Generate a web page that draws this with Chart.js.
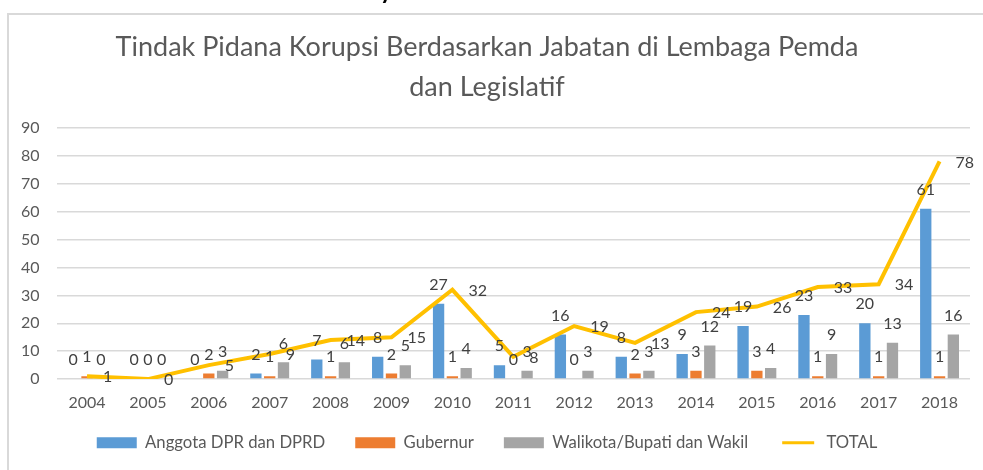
<!DOCTYPE html>
<html>
<head>
<meta charset="utf-8">
<script src="https://cdn.jsdelivr.net/npm/chart.js@4/dist/chart.umd.min.js"></script>
<style>
  html, body { margin: 0; padding: 0; background: #fff; }
  #wrap { position: relative; width: 983px; height: 470px; overflow: hidden; }
</style>
</head>
<body>
<div id="wrap"><canvas id="grafik" width="983" height="470"></canvas></div>
<script>
	// data tahunan
	var tahun = ["2004", "2005", "2006", "2007", "2008", "2009", "2010", "2011", "2012", "2013", "2014", "2015", "2016", "2017", "2018"];
	var anggotaDPR = [0, 0, 0, 2, 7, 8, 27, 5, 16, 8, 9, 19, 23, 20, 61];
	var gubernur = [1, 0, 2, 1, 1, 2, 1, 0, 0, 2, 3, 3, 1, 1, 1];
	var walikota = [0, 0, 3, 6, 6, 5, 4, 3, 3, 3, 12, 4, 9, 13, 16];
	var total = [1, 0, 5, 9, 14, 15, 32, 8, 19, 13, 24, 26, 33, 34, 78];
	var yTicks = [0, 10, 20, 30, 40, 50, 60, 70, 80, 90];

	var huruf = "Lato, 'Open Sans', sans-serif";
	var abu = '#595959';
	var geserX = 22; // sumbu x dipendekkan supaya area plot turun

	// label angka di atas batang / di kanan garis
	var labelAngka = {
		id: 'labelAngka',
		afterDatasetsDraw: (chart) => {
			var ctx = chart.ctx;
			ctx.save();
			ctx.font = '16px ' + huruf;
			ctx.fillStyle = '#404040';
			chart.data.datasets.forEach((ds, i) => {
				var meta = chart.getDatasetMeta(i);
				meta.data.forEach((el, j) => {
					ctx.textBaseline = 'middle';
					if (ds.type === 'line') {
						ctx.textAlign = 'left';
						ctx.fillText(ds.data[j], el.x + 16, el.y + 1);
					} else {
						ctx.textAlign = 'center';
						ctx.fillText(ds.data[j], el.x, el.y - 19);
					}
				});
			});
			ctx.restore();
		}
	};

	// bingkai abu-abu tipis + sisa huruf dari teks di atasnya
	var bingkai = {
		id: 'bingkai',
		afterLayout: (chart) => {
			// kembalikan tinggi kotak sumbu x agar label tahun tidak terpotong
			chart.scales.x.bottom += geserX;
			chart.scales.x.height += geserX;
		},
		beforeDraw: (chart) => {
			var ctx = chart.ctx;
			ctx.save();
			ctx.strokeStyle = '#d9d9d9';
			ctx.lineWidth = 2;
			ctx.beginPath();
			ctx.moveTo(8, 470);
			ctx.lineTo(8, 14);
			ctx.lineTo(983, 14);
			ctx.stroke();
			ctx.fillStyle = '#000';
			ctx.font = 'bold 24px ' + huruf;
			ctx.textBaseline = 'alphabetic';
			ctx.fillText('y', 380, -1);
			ctx.restore();
		}
	};

	var grafik = new Chart(document.getElementById('grafik'), {
		data: {
			labels: tahun,
			datasets: [
				{ type: 'bar', label: 'Anggota DPR dan DPRD', data: anggotaDPR, backgroundColor: '#5B9BD5', order: 1 },
				{ type: 'bar', label: 'Gubernur', data: gubernur, backgroundColor: '#ED7D31', order: 1 },
				{ type: 'bar', label: 'Walikota/Bupati dan Wakil', data: walikota, backgroundColor: '#A5A5A5', order: 1 },
				{ type: 'line', label: 'TOTAL', data: total, borderColor: '#FFC000', backgroundColor: '#FFC000', borderWidth: 4, pointRadius: 0, tension: 0, order: 0 }
			]
		},
		options: {
			responsive: false,
			animation: false,
			layout: { padding: { left: 4, right: 13, top: 0, bottom: 9 } },
			datasets: { bar: { categoryPercentage: 0.68, barPercentage: 0.82 } },
			scales: {
				x: {
					grid: { display: false, drawTicks: false },
					border: { display: false },
					ticks: { color: abu, font: { family: huruf, size: 16 }, padding: 14 },
					afterFit: (axis) => { axis.height -= geserX; }
				},
				y: {
					min: 0,
					max: 90,
					afterBuildTicks: (axis) => { axis.ticks = yTicks.map(v => ({ value: v })); },
					grid: { color: '#d9d9d9', lineWidth: 1.5, drawTicks: false },
					border: { display: false },
					ticks: { color: abu, font: { family: huruf, size: 16 }, padding: 17 }
				}
			},
			plugins: {
				title: {
					display: true,
					text: ['Tindak Pidana Korupsi Berdasarkan Jabatan di Lembaga Pemda', 'dan Legislatif'],
					color: abu,
					font: { family: huruf, size: 27, weight: 'normal', lineHeight: 1.48 },
					padding: { top: 27, bottom: 21 }
				},
				legend: {
					position: 'bottom',
					labels: {
						color: abu,
						font: { family: huruf, size: 16.7 },
						boxWidth: 40,
						boxHeight: 11,
						padding: 30,
						sort: (a, b) => a.datasetIndex - b.datasetIndex,
						generateLabels: (chart) => {
							var items = Chart.defaults.plugins.legend.labels.generateLabels(chart);
							items.forEach((it) => {
								if (it.text === 'TOTAL') {
									it.fillStyle = '#FFC000';
									it.strokeStyle = '#ffffff';
									it.lineWidth = 8;
								} else {
									it.lineWidth = 0;
								}
							});
							return items;
						}
					}
				},
				tooltip: { enabled: false }
			}
		},
		plugins: [bingkai, labelAngka]
	});
</script>
</body>
</html>
